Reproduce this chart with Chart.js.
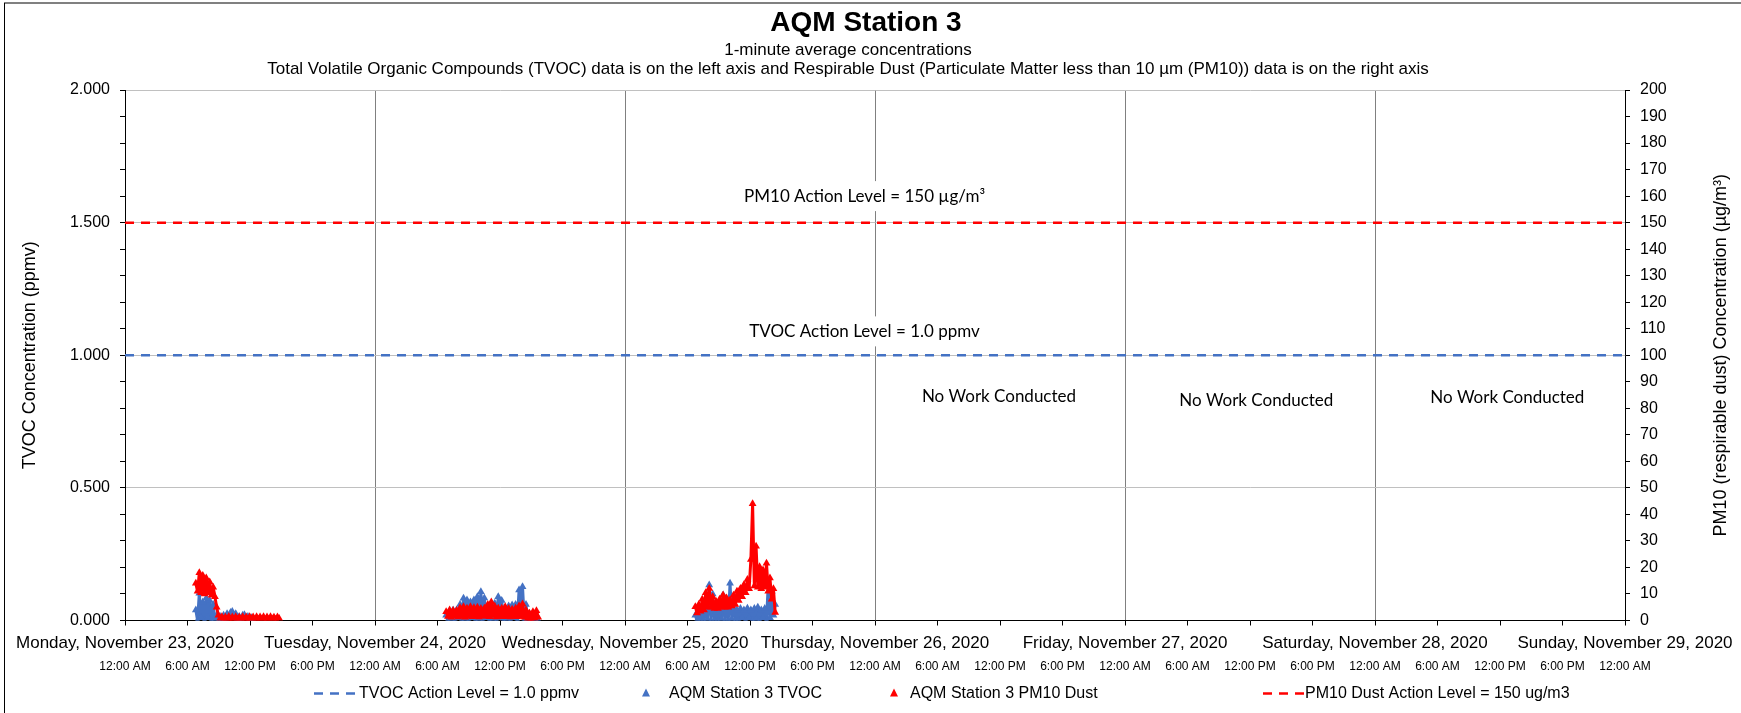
<!DOCTYPE html>
<html>
<head>
<meta charset="utf-8">
<script src="https://cdn.jsdelivr.net/npm/chart.js@4.4.0/dist/chart.umd.min.js"></script>
<style>
  html, body { margin: 0; padding: 0; background: #fff; }
</style>
</head>
<body>
<canvas id="aqmChart" width="1741" height="713"></canvas>
<script>
// x values are hours since Monday, November 23, 2020 12:00 AM
const dayLabels = [
    'Monday, November 23, 2020', 'Tuesday, November 24, 2020', 'Wednesday, November 25, 2020',
    'Thursday, November 26, 2020', 'Friday, November 27, 2020', 'Saturday, November 28, 2020',
    'Sunday, November 29, 2020'
];
const timeLabels = ['12:00 AM', '6:00 AM', '12:00 PM', '6:00 PM'];

// readings every 10 minutes, one block per working day
const sampleStepHours = 1 / 6;
const blockStartHours = [6.8, 30.83, 54.75];

const tvocMon = [0.04, 0.0, 0.103, 0.01, 0.07, 0.0, 0.085, 0.01, 0.075, 0.0, 0.06, 0.005, 0.02, 0.0, 0.015, 0.0,
    0.02, 0.005, 0.025, 0.01, 0.03, 0.034, 0.015, 0.025, 0.005, 0.015, 0.005, 0.02, 0.022, 0.01, 0.015, 0.005, 0.01, 0.0];
const tvocTue = [0.02, 0.0, 0.035, 0.005, 0.04, 0.0, 0.04, 0.01, 0.06, 0.0, 0.084, 0.005, 0.077, 0.0, 0.07, 0.01,
    0.077, 0.0, 0.09, 0.005, 0.108, 0.0, 0.085, 0.01, 0.05, 0.0, 0.05, 0.005, 0.065, 0.0, 0.09, 0.01, 0.075, 0.0,
    0.045, 0.005, 0.055, 0.0, 0.058, 0.01, 0.06, 0.0, 0.115, 0.02, 0.127, 0.0, 0.06, 0.005, 0.025, 0.0, 0.02, 0.005, 0.02, 0.0];
const tvocWed = [0.02, 0.0, 0.03, 0.0, 0.035, 0.0, 0.06, 0.005, 0.134, 0.0, 0.1, 0.0, 0.03, 0.0, 0.035, 0.005,
    0.096, 0.0, 0.07, 0.0, 0.14, 0.005, 0.09, 0.0, 0.04, 0.0, 0.045, 0.01, 0.04, 0.0, 0.046, 0.01, 0.04, 0.0,
    0.045, 0.005, 0.05, 0.0, 0.04, 0.01, 0.045, 0.0, 0.134, 0.01, 0.11, 0.02, 0.06];

const pm10Mon = [14, 11, 18, 10.5, 17, 10, 16, 10.5, 14.5, 9.5, 12.5, 9, 5, 2, 0.8,
    1.4, 0.5, 1.3, 0.6, 1.5, 0.4, 1.3, 0.6, 1.4, 0.5, 1.2, 0.6, 1.4, 0.5, 1.3, 0.4, 1.4, 0.6, 1.3, 0.5,
    1.4, 0.5, 1.3, 0.6, 1.4, 0.4, 1.3, 0.5, 1.4, 0.6, 1.2, 0.5, 1.3, 0.8];
const pm10Tue = [3.3, 1.5, 4.0, 1.2, 3.8, 1.8, 3.8, 1.3, 4.8, 1.6, 5.2, 1.2, 4.6, 1.8, 5.2, 1.4, 4.8, 1.7,
    5.0, 1.3, 4.5, 1.8, 4.6, 1.5, 6.0, 1.4, 7.0, 1.9, 5.4, 1.3, 4.6, 1.6, 4.6, 1.4, 5.2, 1.8, 4.5, 1.3,
    4.2, 1.6, 4.6, 1.4, 5.5, 1.7, 6.2, 1.2, 4.0, 0.6, 2.7, 0.3, 3.3, 0.8, 3.7, 1.2];
const pm10Wed = [5.2, 2.8, 6.0, 3.5, 8.0, 4.0, 10.5, 5.0, 12.1, 5.0, 9.0, 4.5, 7.2, 4.5, 8.0, 5.0, 9.6, 5.0,
    8.5, 5.0, 7.7, 5.5, 9.5, 6.0, 11.0, 7.5, 12.1, 9.0, 13.5, 10.5, 15.5, 12.0, 23.0, 44.0, 13.0, 28.0,
    12.5, 20.3, 12.0, 19.0, 12.5, 21.6, 11.0, 16.0, 8.0, 12.0, 3.0];

const tvocActionLevel = 1.0;
const pm10ActionLevel = 150;
const weekHours = 144;

const chartTitle = 'AQM Station 3';
const chartSubtitle = [
    '1-minute average concentrations',
    'Total Volatile Organic Compounds (TVOC) data is on the left axis and Respirable Dust (Particulate Matter less than 10 µm (PM10)) data is on the right axis'
];

const tvocBlue = '#4472C4';
const pm10Red = '#FF0000';
const axisFont = "'Liberation Sans', Arial, sans-serif";
const noteFont = "Lato, 'Open Sans', sans-serif";

// text placed on the plot, anchored to axis values
const plotNotes = [
    { text: 'PM10 Action Level = 150 µg/m³', hour: 71, value: 160, axis: 'y1', box: true },
    { text: 'TVOC Action Level = 1.0 ppmv', hour: 71, value: 1.09, axis: 'y', box: true },
    { text: 'No Work Conducted', hour: 83.9, value: 0.846, axis: 'y', box: false },
    { text: 'No Work Conducted', hour: 108.6, value: 0.829, axis: 'y', box: false },
    { text: 'No Work Conducted', hour: 132.7, value: 0.84, axis: 'y', box: false }
];

const legendItems = [
    { kind: 'dash', color: tvocBlue, text: 'TVOC Action Level = 1.0 ppmv', symX: 314, textX: 359 },
    { kind: 'tri', color: tvocBlue, text: 'AQM Station 3 TVOC', symX: 646, textX: 669 },
    { kind: 'tri', color: pm10Red, text: 'AQM Station 3 PM10 Dust', symX: 894, textX: 910 },
    { kind: 'dash', color: pm10Red, text: 'PM10 Dust Action Level = 150 ug/m3', symX: 1263, textX: 1305 }
];

function toPoints(values, startHour) {
    return values.map((v, i) => ({ x: startHour + i * sampleStepHours, y: v }));
}

function readingSet(values, startHour, color, axis, order) {
    return {
        data: toPoints(values, startHour),
        yAxisID: axis,
        showLine: true,
        borderColor: color,
        backgroundColor: color,
        borderWidth: 3,
        borderJoinStyle: 'round',
        pointStyle: 'triangle',
        pointRadius: 4.5,
        pointBorderWidth: 0,
        order: order
    };
}

function levelSet(level, color, axis) {
    return {
        type: 'line',
        data: [{ x: 0, y: level }, { x: weekHours, y: level }],
        yAxisID: axis,
        borderColor: color,
        borderWidth: 2.5,
        borderDash: [9, 7],
        pointRadius: 0,
        order: 0
    };
}

const isHalf = v => Math.abs(v * 2 - Math.round(v * 2)) < 1e-6;

const pageDecor = {
    id: 'pageDecor',
    beforeDraw(chart) {
        const ctx = chart.ctx;
        ctx.save();
        ctx.fillStyle = '#fff';
        ctx.fillRect(0, 0, chart.width, chart.height);
        ctx.strokeStyle = '#808080';
        ctx.lineWidth = 2;
        ctx.beginPath();
        ctx.moveTo(4, 3);
        ctx.lineTo(chart.width, 3);
        ctx.stroke();
        ctx.strokeStyle = '#000';
        ctx.lineWidth = 1;
        ctx.beginPath();
        ctx.moveTo(4.5, 3);
        ctx.lineTo(4.5, chart.height);
        ctx.stroke();

        // title block
        ctx.fillStyle = '#000';
        ctx.textAlign = 'center';
        ctx.textBaseline = 'middle';
        ctx.font = 'bold 28px ' + axisFont;
        ctx.fillText(chartTitle, 866, 23);
        ctx.font = '17px ' + axisFont;
        ctx.fillText(chartSubtitle[0], 848, 50);
        ctx.fillText(chartSubtitle[1], 848, 69);
        ctx.restore();
    },
    afterDatasetsDraw(chart) {
        const ctx = chart.ctx;
        ctx.save();
        ctx.font = '17px ' + noteFont;
        ctx.textAlign = 'center';
        ctx.textBaseline = 'middle';
        plotNotes.forEach(n => {
            const px = chart.scales.x.getPixelForValue(n.hour);
            const py = chart.scales[n.axis].getPixelForValue(n.value);
            if (n.box) {
                const w = ctx.measureText(n.text).width;
                ctx.fillStyle = '#fff';
                ctx.fillRect(px - w / 2 - 4, py - 15, w + 8, 30);
            }
            ctx.fillStyle = '#000';
            ctx.fillText(n.text, px, py);
        });
        ctx.restore();
    },
    afterDraw(chart) {
        const ctx = chart.ctx;
        const area = chart.chartArea;
        ctx.save();
        // right axis title reads bottom to top
        ctx.font = '18px ' + axisFont;
        ctx.fillStyle = '#000';
        ctx.textAlign = 'center';
        ctx.textBaseline = 'middle';
        ctx.translate(1721, (area.top + area.bottom) / 2);
        ctx.rotate(-Math.PI / 2);
        ctx.fillText('PM10 (respirable dust) Concentration (µg/m³)', 0, 0);
        ctx.restore();

        ctx.save();
        const ly = 693.5;
        ctx.font = '16px ' + axisFont;
        ctx.textBaseline = 'middle';
        ctx.textAlign = 'left';
        legendItems.forEach(item => {
            ctx.strokeStyle = item.color;
            ctx.fillStyle = item.color;
            if (item.kind === 'dash') {
                ctx.lineWidth = 2.5;
                ctx.setLineDash([9, 7]);
                ctx.beginPath();
                ctx.moveTo(item.symX, ly);
                ctx.lineTo(item.symX + 42, ly);
                ctx.stroke();
                ctx.setLineDash([]);
            } else {
                ctx.beginPath();
                ctx.moveTo(item.symX, ly - 5);
                ctx.lineTo(item.symX + 4, ly + 3);
                ctx.lineTo(item.symX - 4, ly + 3);
                ctx.closePath();
                ctx.fill();
            }
            ctx.fillStyle = '#000';
            ctx.fillText(item.text, item.textX, ly);
        });
        ctx.restore();
    }
};

const datasets = [
    levelSet(tvocActionLevel, tvocBlue, 'y'),
    levelSet(pm10ActionLevel, pm10Red, 'y1'),
    readingSet(pm10Mon, blockStartHours[0], pm10Red, 'y1', 1),
    readingSet(pm10Tue, blockStartHours[1], pm10Red, 'y1', 1),
    readingSet(pm10Wed, blockStartHours[2], pm10Red, 'y1', 1),
    readingSet(tvocMon, blockStartHours[0], tvocBlue, 'y', 2),
    readingSet(tvocTue, blockStartHours[1], tvocBlue, 'y', 2),
    readingSet(tvocWed, blockStartHours[2], tvocBlue, 'y', 2)
];

new Chart(document.getElementById('aqmChart').getContext('2d'), {
    type: 'scatter',
    data: { datasets: datasets },
    plugins: [pageDecor],
    options: {
        responsive: false,
        animation: false,
        layout: { padding: { left: 6, right: 0, top: 90, bottom: 39 } },
        plugins: {
            legend: { display: false },
            tooltip: { enabled: false }
        },
        scales: {
            x: {
                type: 'linear',
                position: 'bottom',
                min: 0,
                max: weekHours,
                afterFit: s => { s.height = 33.5; },
                ticks: {
                    stepSize: 6,
                    autoSkip: false,
                    maxRotation: 0,
                    padding: 7.5,
                    color: '#000',
                    font: { family: axisFont, size: 17 },
                    callback: v => (v % 24 === 0 ? dayLabels[v / 24] : '')
                },
                grid: {
                    color: c => (c.tick && c.tick.value % 24 === 0 ? '#808080' : 'rgba(0,0,0,0)'),
                    tickColor: '#000',
                    tickLength: 5
                },
                border: { color: '#000', width: 1 }
            },
            x2: {
                type: 'linear',
                position: 'bottom',
                min: 0,
                max: weekHours,
                afterFit: s => { s.height = 20; },
                ticks: {
                    stepSize: 6,
                    autoSkip: false,
                    maxRotation: 0,
                    padding: 5,
                    color: '#000',
                    font: { family: axisFont, size: 12 },
                    callback: v => timeLabels[(v / 6) % 4]
                },
                grid: { display: false, drawTicks: false },
                border: { display: false }
            },
            y: {
                position: 'left',
                min: 0,
                max: 2,
                afterFit: s => { s.width = 119; },
                ticks: {
                    stepSize: 0.1,
                    autoSkip: false,
                    padding: 10,
                    color: '#000',
                    font: { family: axisFont, size: 16 },
                    callback: v => (isHalf(v) ? v.toFixed(3) : '')
                },
                grid: {
                    color: c => (c.tick && isHalf(c.tick.value) ? '#c0c0c0' : 'rgba(0,0,0,0)'),
                    tickColor: '#000',
                    tickLength: 5
                },
                border: { color: '#000', width: 1 },
                title: {
                    display: true,
                    text: 'TVOC Concentration (ppmv)',
                    color: '#000',
                    font: { family: axisFont, size: 18 },
                    padding: { top: 13, bottom: 0 }
                }
            },
            y1: {
                position: 'right',
                min: 0,
                max: 200,
                afterFit: s => { s.width = 116; },
                ticks: {
                    stepSize: 10,
                    autoSkip: false,
                    padding: 10,
                    color: '#000',
                    font: { family: axisFont, size: 16 }
                },
                grid: { drawOnChartArea: false, tickColor: '#000', tickLength: 5 },
                border: { color: '#000', width: 1 }
            }
        }
    }
});
</script>
</body>
</html>
